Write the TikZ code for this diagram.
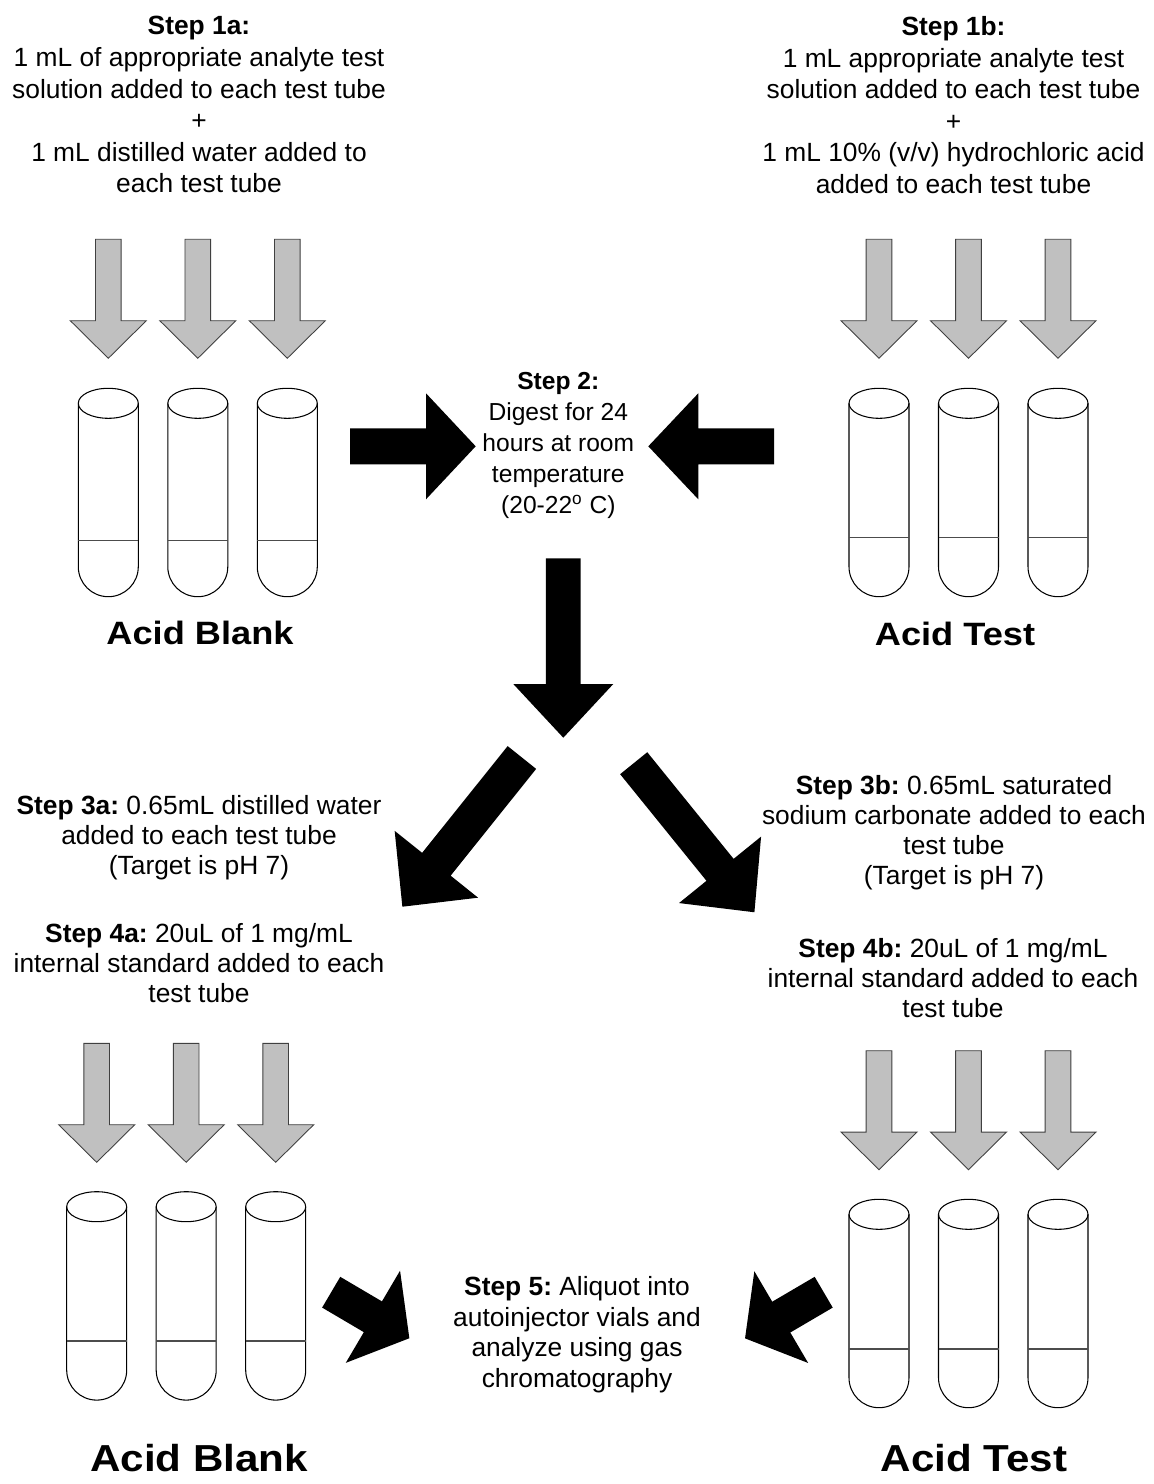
\documentclass[tikz,border=0pt]{standalone}
\usepackage{fontspec}
\setmainfont{Liberation Sans}
\newfontfamily\labelfont{Liberation Sans}[FakeStretch=1.12]
\frenchspacing
\usetikzlibrary{calc}
\definecolor{arrowgray}{RGB}{192,192,192}
\tikzset{>=stealth}
\tikzset{
    tube/.style={draw=black, line width=0.6pt},          % glass outline
    liquid/.style={draw=black!70, line width=0.6pt},     % liquid level
    grayarrow/.style={fill=arrowgray, draw=black!75, line width=0.5pt},
    blackarrow/.style={fill=black},
    steptext/.style={align=center, inner sep=0pt, anchor=north},
    grouplabel/.style={inner sep=0pt, anchor=north},
}
% block arrow: style, tail x, tail y, angle, length, half shaft, half head, head length
\newcommand{\blockarrow}[8]{%
    \begin{scope}[shift={(#2,#3)}, rotate=#4]
        \path[#1] (0,-#6) -- (#5-#8,-#6) -- (#5-#8,-#7) -- (#5,0) -- (#5-#8,#7) -- (#5-#8,#6) -- (0,#6) -- cycle;
    \end{scope}}
% test tube: centre x, top of rim, height of liquid level
\newcommand{\testtube}[3]{%
    \draw[tube] (#1,#2+15) ellipse[x radius=0.6cm, y radius=0.3cm];
    \draw[tube] (#1-30,#2+15) -- (#1-30,#2+178.4) arc[start angle=180, end angle=360, radius=0.6cm] -- (#1+30,#2+15);
    \draw[liquid] (#1-30,#2+#3) -- (#1+30,#2+#3);}

\begin{document}
\begin{tikzpicture}[x=0.02cm, y=-0.02cm]
    \useasboundingbox (0,0) rectangle (1153,1484);
    \pgfmathsetmacro{\tubegap}{89.5}
    \pgfmathsetmacro{\arrlen}{119}

    % texts
    \node[steptext, font=\fontsize{15}{18}\selectfont] (step1a) at (199,16)
        {\textbf{Step 1a:}\\1 mL of appropriate analyte test\\solution added to each test tube\\+\\1 mL distilled water added to\\each test tube};
    \node[steptext, font=\fontsize{15}{18}\selectfont] (step1b) at (953.5,16)
        {\textbf{Step 1b:}\\1 mL appropriate analyte test\\solution added to each test tube\\+\\1 mL 10\% (v/v) hydrochloric acid\\added to each test tube};
    \node[steptext, font=\fontsize{14}{17.7}\selectfont] (step2) at (558.3,371.7)
        {\textbf{Step 2:}\\Digest for 24\\hours at room\\temperature\\(20-22\textsuperscript{o}\ C)};
    \node[steptext, font=\fontsize{15}{17}\selectfont] (step3a) at (199,795)
        {\textbf{Step 3a:} 0.65mL distilled water\\added to each test tube\\(Target is pH 7)};
    \node[steptext, font=\fontsize{15}{17}\selectfont] (step4a) at (199,923.3)
        {\textbf{Step 4a:} 20uL of 1 mg/mL\\internal standard added to each\\test tube};
    \node[steptext, font=\fontsize{15}{17}\selectfont] (step3b) at (954,775)
        {\textbf{Step 3b:} 0.65mL saturated\\sodium carbonate added to each\\test tube\\(Target is pH 7)};
    \node[steptext, font=\fontsize{15}{17}\selectfont] (step4b) at (953,938.3)
        {\textbf{Step 4b:} 20uL of 1 mg/mL\\internal standard added to each\\test tube};
    \node[steptext, font=\fontsize{15}{17.5}\selectfont] (step5) at (577,1276)
        {\textbf{Step 5:} Aliquot into\\autoinjector vials and\\analyze using gas\\chromatography};

    % group labels
    \node[grouplabel, font=\labelfont\bfseries\fontsize{18.4}{22}\selectfont] (blanktop) at (200,620.7) {Acid Blank};
    \node[grouplabel, font=\labelfont\bfseries\fontsize{18.4}{22}\selectfont] (testtop) at (955,621.7) {Acid Test};
    \node[grouplabel, font=\labelfont\bfseries\fontsize{21.4}{26}\selectfont] (blankbot) at (199,1444) {Acid Blank};
    \node[grouplabel, font=\labelfont\bfseries\fontsize{21.4}{26}\selectfont] (testbot) at (974,1444) {Acid Test};

    % gray arrows and test tubes
    \foreach \i in {0,1,2} {
        \blockarrow{grayarrow}{108.3+\i*\tubegap}{239.3}{-90}{\arrlen}{12.85}{38}{37.6}
        \testtube{108.3+\i*\tubegap}{388.3}{152.4}
        \blockarrow{grayarrow}{879+\i*\tubegap}{239.3}{-90}{\arrlen}{12.85}{38}{37.6}
        \testtube{879+\i*\tubegap}{388.3}{149.4}
        \blockarrow{grayarrow}{96.7+\i*\tubegap}{1043.3}{-90}{\arrlen}{12.85}{38}{37.6}
        \testtube{96.7+\i*\tubegap}{1191.7}{149.3}
        \blockarrow{grayarrow}{879+\i*\tubegap}{1050.7}{-90}{\arrlen}{12.85}{38}{37.6}
        \testtube{879+\i*\tubegap}{1199.3}{149.7}
    }

    % black arrows
    \blockarrow{blackarrow}{350}{446.3}{0}{125.7}{18}{53}{49.7}
    \blockarrow{blackarrow}{774}{446.3}{180}{125.7}{18}{53}{50}
    \blockarrow{blackarrow}{563.3}{558.3}{-90}{179.4}{17.35}{50}{53.7}
    \blockarrow{blackarrow}{521.9}{757.5}{-128.7}{191.2}{18.25}{53.45}{54.4}
    \blockarrow{blackarrow}{633.7}{763.2}{-51}{191.8}{17.45}{52.8}{54.6}
    \blockarrow{blackarrow}{331.2}{1292.2}{-30.5}{90.7}{17.85}{53.5}{42.3}
    \blockarrow{blackarrow}{823.7}{1292.2}{-149.6}{91.2}{17.85}{53.2}{42}
\end{tikzpicture}
\end{document}
